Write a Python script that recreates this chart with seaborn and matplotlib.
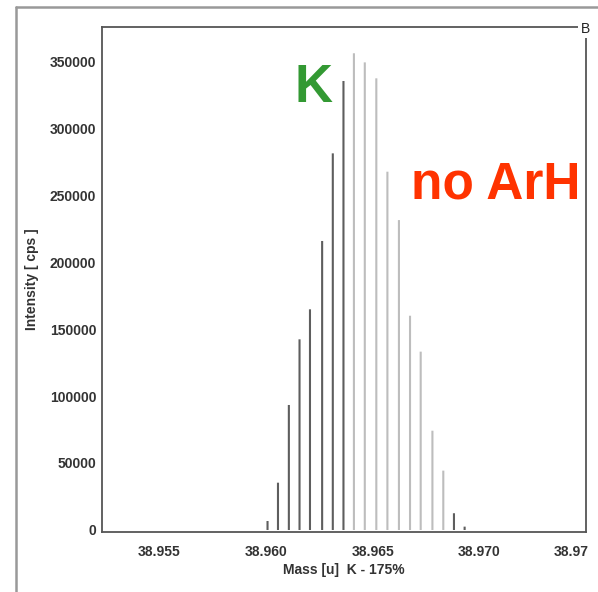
import matplotlib
matplotlib.use("Agg")
import matplotlib.pyplot as plt
import matplotlib.transforms as mtransforms
import pandas as pd
import seaborn as sns
from matplotlib.lines import Line2D

# peak positions (u) and intensities (cps)
mass = [38.96007, 38.96056, 38.96107, 38.96157, 38.96206, 38.96263, 38.96313,
        38.96363, 38.96412, 38.96463, 38.96517, 38.96569, 38.96623, 38.96675,
        38.96725, 38.96780, 38.96831, 38.96881, 38.96931]
intensity = [6700, 35300, 93300, 142300, 164700, 215700, 281100, 335100,
             355800, 349000, 337100, 267400, 231300, 159900, 133100, 74100,
             44300, 12500, 2500]
group = ["dark"] * 8 + ["light"] * 9 + ["dark"] * 2

x_ticks = [38.955, 38.960, 38.965, 38.970, 38.975]
x_ticklabels = ["38.955", "38.960", "38.965", "38.970", "38.97"]
y_ticks = [0, 50000, 100000, 150000, 200000, 250000, 300000, 350000]

df = pd.DataFrame({"mass": mass, "intensity": intensity, "group": group})

sns.set_style("white")
plt.rcParams["font.family"] = ["Liberation Sans Narrow", "Liberation Sans", "DejaVu Sans"]

fig = plt.figure(figsize=(5.98, 5.92), dpi=100)
ax = fig.add_axes([102 / 598, 1 - 532 / 592, 484 / 598, 505 / 592])

sns.barplot(data=df, x="mass", y="intensity", hue="group", native_scale=True,
            dodge=False, width=0.2, palette={"dark": "#5e5e5e", "light": "#bdbdbd"},
            linewidth=0, legend=False, ax=ax)
# keep every stick the same width instead of snapping to whole pixels
for p in ax.patches:
    p.set_snap(False)

ax.set_xlim(38.95231, 38.97498)
ax.set_ylim(-1500, 375400)
ax.set_xticks(x_ticks)
ax.set_xticklabels(x_ticklabels)
ax.set_yticks(y_ticks)
ax.set_yticklabels([str(v) for v in y_ticks])

for s in ax.spines.values():
    s.set_color("#555555")
    s.set_linewidth(1.3)

ax.tick_params(axis="x", direction="out", length=7, width=1.2, pad=2.5,
               colors="#555555", labelcolor="#333333", labelsize=10)
ax.tick_params(axis="y", direction="out", length=3.6, width=1.2, pad=0.5,
               colors="#555555", labelcolor="#333333", labelsize=10)
for lab in ax.get_xticklabels() + ax.get_yticklabels():
    lab.set_fontweight("bold")

# last x label is pulled inside the figure, as in the original
last = ax.get_xticklabels()[-1]
last.set_horizontalalignment("right")
last.set_transform(last.get_transform() +
                   mtransforms.ScaledTranslation(0.03, 0, fig.dpi_scale_trans))

ax.set_xlabel("Mass [u]  K - 175%", fontsize=10, fontweight="bold",
              color="#333333", labelpad=3)
ax.set_ylabel("Intensity [ cps ]", fontsize=10, fontweight="bold",
              color="#333333", labelpad=8)

fig.text(314 / 598, 1 - 88 / 592, "K", color="#339933", fontsize=38,
         fontweight="bold", family=["Liberation Sans", "DejaVu Sans"],
         ha="center", va="center")
fig.text(496 / 598, 1 - 185 / 592, "no ArH", color="#ff3300", fontsize=37,
         fontweight="bold", family=["Liberation Sans", "DejaVu Sans"],
         ha="center", va="center")
fig.text(585 / 598, 1 - 29 / 592, "B", color="#222222", fontsize=10,
         ha="center", va="center",
         bbox=dict(facecolor="white", edgecolor="none", pad=1.5))

# outer frame (left and top edges)
fig.add_artist(Line2D([16 / 598, 16 / 598], [0, 1 - 7 / 592],
                      transform=fig.transFigure, color="#999999", linewidth=1.8))
fig.add_artist(Line2D([16 / 598, 1], [1 - 7 / 592, 1 - 7 / 592],
                      transform=fig.transFigure, color="#999999", linewidth=1.8))

fig.savefig("out.png", dpi=100)
